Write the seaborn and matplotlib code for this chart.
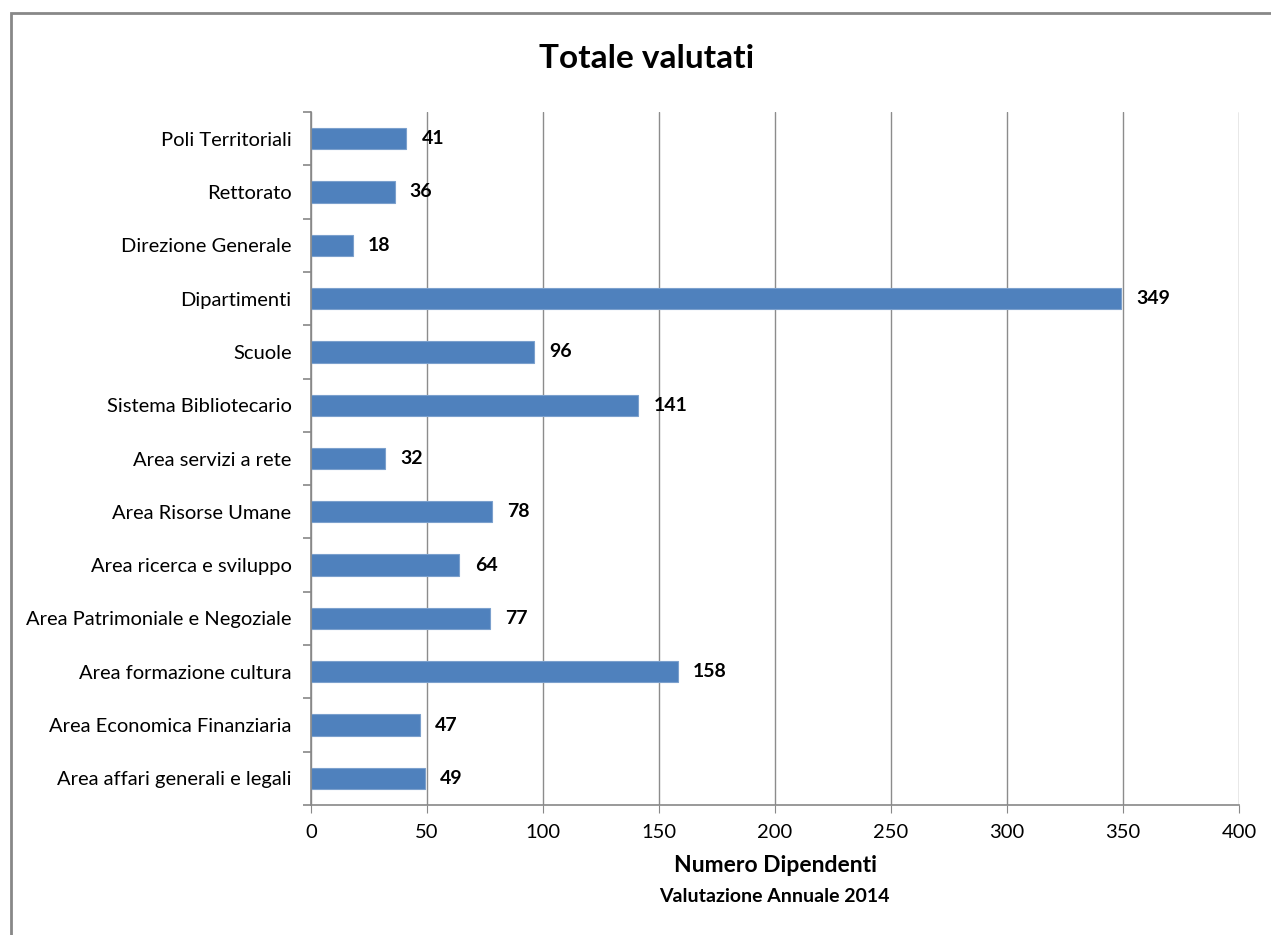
import matplotlib
matplotlib.use('Agg')
import matplotlib.pyplot as plt
import seaborn as sns
import pandas as pd
from matplotlib.patches import Rectangle

categorie = ['Poli Territoriali', 'Rettorato', 'Direzione Generale', 'Dipartimenti',
             'Scuole', 'Sistema Bibliotecario', 'Area servizi a rete',
             'Area Risorse Umane', 'Area ricerca e sviluppo',
             'Area Patrimoniale e Negoziale', 'Area formazione cultura',
             'Area Economica Finanziaria', 'Area affari generali e legali']
valutati = [41, 36, 18, 349, 96, 141, 32, 78, 64, 77, 158, 47, 49]
xticks = [0, 50, 100, 150, 200, 250, 300, 350, 400]

df = pd.DataFrame({'categoria': categorie, 'valutati': valutati})

sns.set_style('white')
plt.rcParams['font.family'] = ['Lato', 'DejaVu Sans']
plt.rcParams['text.color'] = 'black'

fig = plt.figure(figsize=(12.71, 9.35), dpi=100)
ax = fig.add_axes([311 / 1271, 1 - 805 / 935, 928 / 1271, 693 / 935])

sns.barplot(data=df, y='categoria', x='valutati', orient='h', color='#4F81BD',
            width=0.4, saturation=1, edgecolor='#7BA0CD', linewidth=0.8, ax=ax)

ax.set_xlim(0, 400)
ax.set_ylim(len(categorie) - 0.5, -0.5)
ax.set_xticks(xticks)
ax.set_xticklabels([str(t) for t in xticks], fontsize=14.5, color='black')
ax.set_yticks(range(len(categorie)))
ax.set_yticklabels(categorie, fontsize=14.5, color='black')
ax.tick_params(axis='y', which='major', left=False, length=0, pad=14)
ax.tick_params(axis='x', bottom=True, length=6, color='#888888', direction='out', pad=8)
# trattini tra le categorie
ax.set_yticks([i - 0.5 for i in range(len(categorie) + 1)], minor=True)
ax.tick_params(axis='y', which='minor', left=True, length=6, width=1.2,
               color='#888888', direction='out')

ax.xaxis.grid(True, color='#8C8C8C', linewidth=1)
ax.set_axisbelow(True)
for s in ['top', 'right']:
    ax.spines[s].set_visible(False)
for s in ['left', 'bottom']:
    ax.spines[s].set_color('#888888')
    ax.spines[s].set_linewidth(1.2)

for i, v in enumerate(valutati):
    ax.annotate(str(v), (v, i), xytext=(11, 0), textcoords='offset points',
                va='center', ha='left', fontsize=14, fontweight='bold', color='black')

ax.set_xlabel('Numero Dipendenti', fontsize=16.5, fontweight='bold', labelpad=10,
              color='black')
ax.set_ylabel('')
fig.text(774 / 1271, 1 - 897 / 935, 'Valutazione Annuale 2014',
         ha='center', va='center', fontsize=14, fontweight='bold')
fig.text(647 / 1271, 1 - 58 / 935, 'Totale valutati', ha='center', va='center',
         fontsize=24, fontweight='bold')

# cornice del grafico
fig.patches.append(Rectangle((11 / 1271, -0.1), 1.2, 1 - 13 / 935 + 0.1,
                             transform=fig.transFigure, fill=False,
                             edgecolor='#888888', linewidth=2))

fig.savefig('out.png', dpi=100)
